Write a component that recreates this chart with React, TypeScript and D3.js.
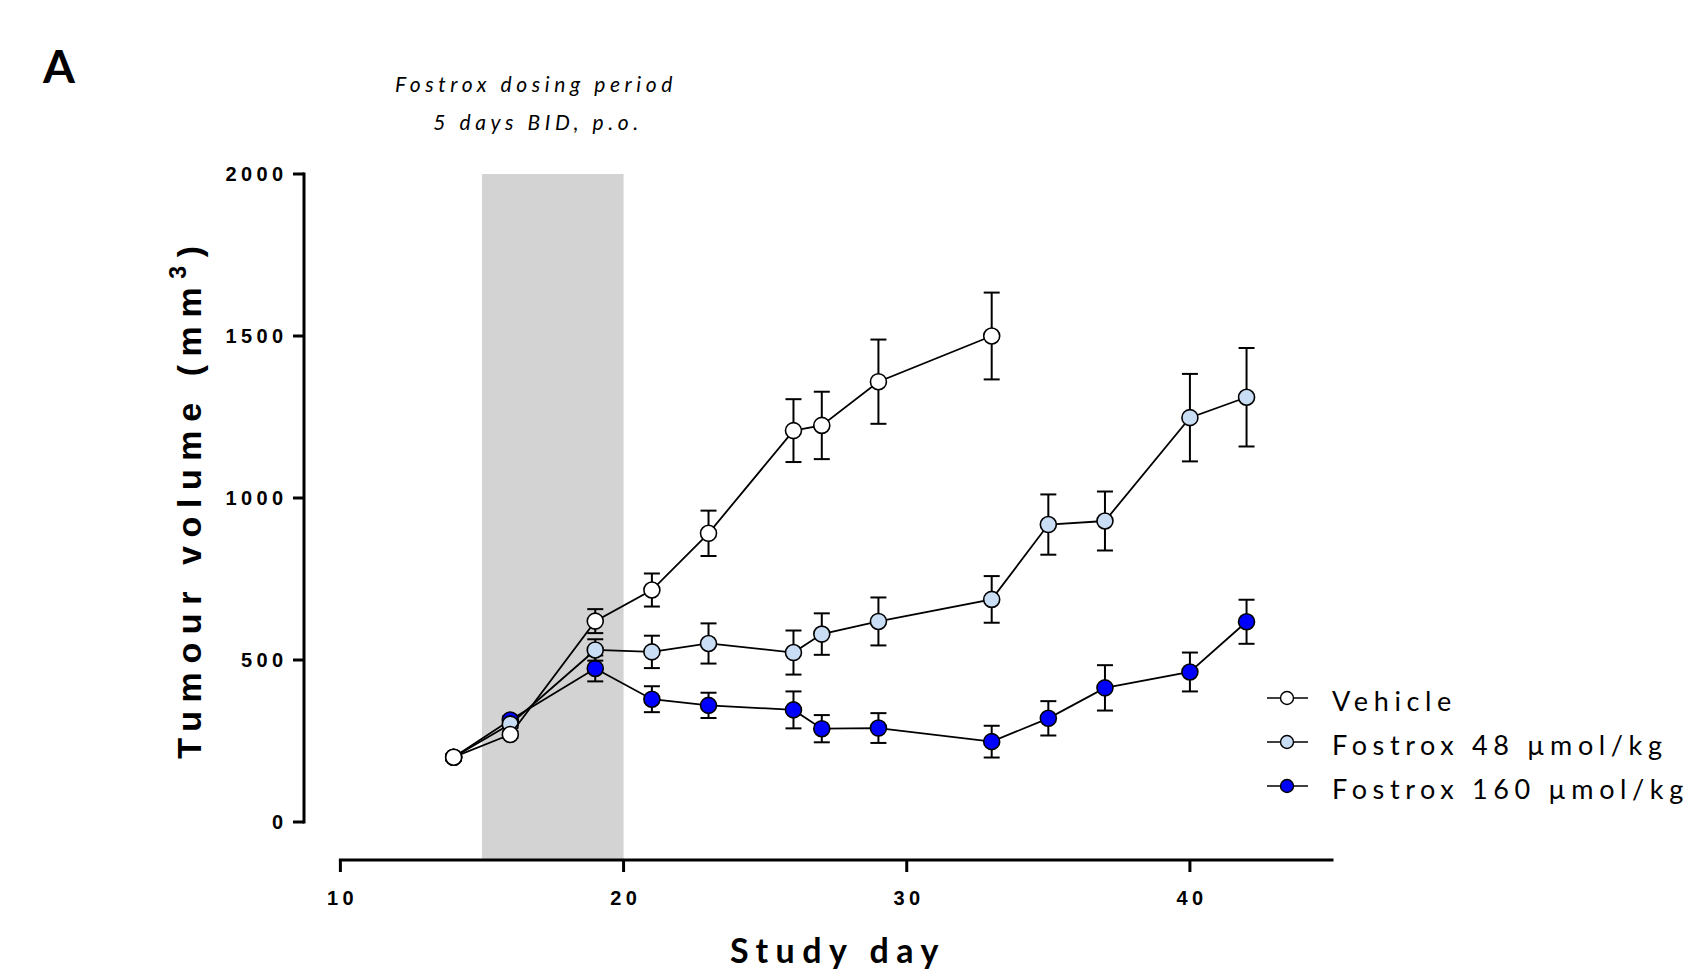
import * as d3 from "d3";

type Point = { day: number; mean: number; sem: number };

// study days
const allDays = [14, 16, 19, 21, 23, 26, 27, 29, 33, 35, 37, 40, 42];
const vehicleDays = [14, 16, 19, 21, 23, 26, 27, 29, 33];

// tumour volume (mm3), mean and SEM
const vehicleMean = [200, 270, 620, 716, 891, 1208, 1224, 1359, 1500];
const vehicleSem = [10, 10, 37, 51, 70, 97, 104, 130, 134];
const fostrox48Mean = [200, 302, 531, 525, 551, 523, 580, 619, 687, 918, 929, 1248, 1311];
const fostrox48Sem = [10, 12, 33, 50, 62, 68, 64, 74, 72, 93, 91, 135, 152];
const fostrox160Mean = [200, 315, 474, 379, 360, 346, 288, 290, 248, 320, 414, 463, 618];
const fostrox160Sem = [10, 12, 40, 40, 39, 57, 42, 46, 49, 53, 70, 60, 68];

const yTicks = [0, 500, 1000, 1500, 2000];
const xTicks = [10, 20, 30, 40];
const dosingPeriod = [15, 20];

const seriesNames = ["Fostrox 160 µmol/kg", "Fostrox 48 µmol/kg", "Vehicle"];
const seriesFills = ["#0000ff", "#c9ddf4", "#ffffff"];

const toPoints = (days: number[], mean: number[], sem: number[]): Point[] =>
  days.map((day, i) => ({ day, mean: mean[i], sem: sem[i] }));

const series = [
  toPoints(allDays, fostrox160Mean, fostrox160Sem),
  toPoints(allDays, fostrox48Mean, fostrox48Sem),
  toPoints(vehicleDays, vehicleMean, vehicleSem),
];

export default function App() {
  const width = 1689;
  const height = 970;
  const yAxisX = 304;
  const xAxisY = 860;

  const x = d3.scaleLinear().domain([10, 45]).range([340.4, 1331.5]);
  const y = d3.scaleLinear().domain([0, 2000]).range([822, 174]);

  const line = d3
    .line<Point>()
    .x((d) => x(d.day))
    .y((d) => y(d.mean));

  const cap = 8;
  const r = 8;

  // legend order: vehicle first
  const legendOrder = [2, 1, 0];

  return (
    <svg
      width={width}
      height={height}
      style={{ position: "absolute", left: 0, top: 0, background: "#fff" }}
    >
      <rect width={width} height={height} fill="#fff" />

      {/* panel letter */}
      <text x={43} y={83} fontFamily="Lato" fontWeight={700} fontSize={46}>
        A
      </text>

      {/* dosing period annotation */}
      <g fontFamily="Lato" fontStyle="italic" fontSize={21} textAnchor="middle" style={{ letterSpacing: "4.6px" }}>
        <text x={536} y={92}>Fostrox dosing period</text>
        <text x={538} y={130}>5 days BID, p.o.</text>
      </g>

      {/* shaded dosing period */}
      <rect
        x={x(dosingPeriod[0])}
        y={y(2000)}
        width={x(dosingPeriod[1]) - x(dosingPeriod[0])}
        height={xAxisY - y(2000)}
        fill="#d3d3d3"
      />

      {/* y axis */}
      <g stroke="#000" strokeWidth={3}>
        <line x1={yAxisX} x2={yAxisX} y1={y(2000) - 1.5} y2={y(0) + 1.5} />
        {yTicks.map((t) => (
          <line key={t} x1={yAxisX - 11} x2={yAxisX} y1={y(t)} y2={y(t)} />
        ))}
      </g>
      <g fontFamily="Liberation Sans" fontWeight={700} fontSize={20} textAnchor="end" style={{ letterSpacing: "4.4px" }}>
        {yTicks.map((t) => (
          <text key={t} x={287.5} y={y(t)} dy="0.36em">
            {t}
          </text>
        ))}
      </g>

      {/* x axis */}
      <g stroke="#000" strokeWidth={3}>
        <line x1={x(10) - 1.5} x2={x(45) + 2} y1={xAxisY} y2={xAxisY} />
        {xTicks.map((t) => (
          <line key={t} x1={x(t)} x2={x(t)} y1={xAxisY} y2={xAxisY + 12} />
        ))}
      </g>
      <g fontFamily="Liberation Sans" fontWeight={700} fontSize={20} textAnchor="middle" style={{ letterSpacing: "4.4px" }}>
        {xTicks.map((t) => (
          <text key={t} x={x(t) + 2.2} y={905}>
            {t}
          </text>
        ))}
      </g>

      {/* axis titles */}
      <text
        x={838}
        y={963}
        fontFamily="Lato"
        fontWeight={700}
        fontSize={34}
        textAnchor="middle"
        style={{ letterSpacing: "7.5px" }}
      >
        Study day
      </text>
      <text
        transform="translate(201,498) rotate(-90)"
        fontFamily="Liberation Sans"
        fontWeight={700}
        fontSize={34}
        textAnchor="middle"
        style={{ letterSpacing: "8.6px" }}
      >
        Tumour volume (mm
        <tspan dy={-15} fontSize={23}>3</tspan>
        <tspan dy={15}>)</tspan>
      </text>

      {/* series */}
      {series.map((pts, si) => (
        <g key={si}>
          <path d={line(pts) ?? ""} fill="none" stroke="#000" strokeWidth={1.8} />
          <g stroke="#000" strokeWidth={2}>
            {pts.map((p, i) => (
              <g key={i}>
                <line x1={x(p.day)} x2={x(p.day)} y1={y(p.mean + p.sem)} y2={y(p.mean - p.sem)} />
                <line x1={x(p.day) - cap} x2={x(p.day) + cap} y1={y(p.mean + p.sem)} y2={y(p.mean + p.sem)} />
                <line x1={x(p.day) - cap} x2={x(p.day) + cap} y1={y(p.mean - p.sem)} y2={y(p.mean - p.sem)} />
              </g>
            ))}
          </g>
          {pts.map((p, i) => (
            <circle
              key={i}
              cx={x(p.day)}
              cy={y(p.mean)}
              r={r}
              fill={seriesFills[si]}
              stroke="#000"
              strokeWidth={1.6}
            />
          ))}
        </g>
      ))}

      {/* legend */}
      <g>
        {legendOrder.map((si, row) => {
          const cy = 698 + row * 44;
          return (
            <g key={si}>
              <line x1={1267} x2={1308} y1={cy} y2={cy} stroke="#000" strokeWidth={1.6} />
              <circle cx={1287} cy={cy} r={6.5} fill={seriesFills[si]} stroke="#000" strokeWidth={1.4} />
              <text
                x={1332}
                y={cy + 3}
                dy="0.36em"
                fontFamily="Lato"
                fontSize={27}
                style={{ letterSpacing: "5.6px" }}
              >
                {seriesNames[si]}
              </text>
            </g>
          );
        })}
      </g>
    </svg>
  );
}
